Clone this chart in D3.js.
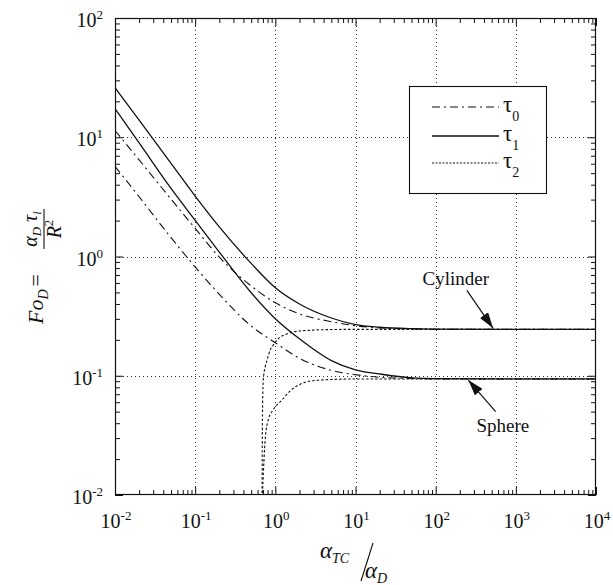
<!DOCTYPE html>
<html><head><meta charset="utf-8">
<script src="https://cdn.jsdelivr.net/npm/d3@7"></script>
<style>
body{margin:0;background:#fff;}
svg{display:block;}
text{font-family:"Liberation Serif","Times New Roman",serif;fill:#111;}
</style></head>
<body>
<svg id="chart" width="613" height="585"></svg>
<script>
// ---------- data ----------
const xs = [0.01,0.02,0.05,0.1,0.2,0.5,1,2,5,10,20,50,100,1000,10000];
const cylTau1 = [26.1,13.9,6.04,3.21,1.77,0.875,0.547,0.40,0.305,0.268,0.255,0.248,0.246,0.245,0.245];
const cylTau0 = [11.4,6.45,3.03,1.72,0.986,0.566,0.409,0.33,0.284,0.263,0.252,0.247,0.245,0.245,0.245];
const sphTau1 = [17.4,8.96,3.72,2.01,1.09,0.497,0.301,0.204,0.134,0.112,0.1035,0.096,0.0945,0.094,0.094];
const sphTau0 = [5.7,3.17,1.44,0.817,0.482,0.261,0.189,0.140,0.111,0.102,0.097,0.095,0.094,0.094,0.094];
const cylTau2X = [0.684,0.688,0.695,0.708,0.75,0.794,0.866,0.917,1.06,1.41,1.88,2.74,5,10,100,10000];
const cylTau2 = [0.0095,0.03,0.06,0.093,0.12,0.137,0.166,0.176,0.201,0.225,0.236,0.241,0.244,0.245,0.245,0.245];
const sphTau2X = [0.688,0.70,0.72,0.75,0.818,0.944,1.22,1.54,2.05,2.6,3.65,5,10,100,10000];
const sphTau2 = [0.0095,0.0125,0.019,0.03,0.043,0.052,0.063,0.075,0.085,0.09,0.092,0.093,0.094,0.094,0.094];

const xDecades = [-2,-1,0,1,2,3,4];
const yDecades = [-2,-1,0,1,2];
const legendSubs = ["0","1","2"];
const shapeNames = ["Cylinder","Sphere"];

// ---------- layout ----------
const L=115, R=596, T=18, B=495;
const svg = d3.select("#chart");
const x = d3.scaleLog().domain([1e-2,1e4]).range([L,R]);
const y = d3.scaleLog().domain([1e-2,1e2]).range([B,T]);

const defs = svg.append("defs");
defs.append("clipPath").attr("id","clip").append("rect")
  .attr("x",L).attr("y",T).attr("width",R-L).attr("height",B-T);
defs.append("marker").attr("id","ah").attr("viewBox","0 0 16 10")
  .attr("refX",16).attr("refY",5).attr("markerWidth",16).attr("markerHeight",10)
  .attr("markerUnits","userSpaceOnUse").attr("orient","auto")
  .append("path").attr("d","M0,0L16,5L0,10z").attr("fill","#111");

// ---------- grid ----------
const gx = xDecades.slice(1,-1).map(d=>Math.pow(10,d));
const gy = yDecades.slice(1,-1).map(d=>Math.pow(10,d));
const grid = svg.append("g").attr("stroke","#333").attr("stroke-width",1).attr("stroke-dasharray","1,3");
grid.selectAll(".gv").data(gx).join("line")
  .attr("x1",d=>Math.round(x(d))+0.5).attr("x2",d=>Math.round(x(d))+0.5)
  .attr("y1",T).attr("y2",B);
grid.selectAll(".gh").data(gy).join("line")
  .attr("y1",d=>Math.round(y(d))+0.5).attr("y2",d=>Math.round(y(d))+0.5)
  .attr("x1",L).attr("x2",R);

// ---------- ticks via axes ----------
const xMinor=[], yMinor=[];
xDecades.slice(0,-1).forEach(d=>{for(let k=2;k<10;k++) xMinor.push(k*Math.pow(10,d));});
yDecades.slice(0,-1).forEach(d=>{for(let k=2;k<10;k++) yMinor.push(k*Math.pow(10,d));});
const xMajor = xDecades.map(d=>Math.pow(10,d));
const yMajor = yDecades.map(d=>Math.pow(10,d));

function addAxis(gen, tr, vals, size){
  const g = svg.append("g").attr("transform",tr)
    .call(gen.tickValues(vals).tickSize(size).tickFormat(""));
  g.select(".domain").remove();
  g.selectAll("line").attr("stroke","#111");
}
addAxis(d3.axisBottom(x),`translate(0,${B})`,xMinor,-5);
addAxis(d3.axisBottom(x),`translate(0,${B})`,xMajor,-8);
addAxis(d3.axisTop(x),`translate(0,${T})`,xMinor,-5);
addAxis(d3.axisTop(x),`translate(0,${T})`,xMajor,-8);
addAxis(d3.axisLeft(y),`translate(${L},0)`,yMinor,-5);
addAxis(d3.axisLeft(y),`translate(${L},0)`,yMajor,-8);
addAxis(d3.axisRight(y),`translate(${R},0)`,yMinor,-5);
addAxis(d3.axisRight(y),`translate(${R},0)`,yMajor,-8);

svg.append("rect").attr("x",L+0.5).attr("y",T+0.5).attr("width",R-L-1).attr("height",B-T-1)
  .attr("fill","none").attr("stroke","#111").attr("stroke-width",1.2);

// tick labels
xDecades.forEach(d=>{
  const t = svg.append("text").attr("x",x(Math.pow(10,d))+1).attr("y",B+33)
    .attr("text-anchor","middle").attr("font-size",20).text("10");
  t.append("tspan").attr("dy",-8).attr("font-size",13).text(d);
});
yDecades.forEach(d=>{
  const t = svg.append("text").attr("x",103).attr("y",y(Math.pow(10,d))+9)
    .attr("text-anchor","end").attr("font-size",20).text("10");
  t.append("tspan").attr("dy",-8).attr("font-size",13).text(d);
});

// ---------- curves ----------
const line = d3.line().x(d=>x(d[0])).y(d=>y(d[1])).curve(d3.curveMonotoneX);
const plot = svg.append("g").attr("clip-path","url(#clip)").attr("fill","none").attr("stroke","#111");
const series = [
  {xv:xs, yv:cylTau1, dash:null, w:1.3},
  {xv:xs, yv:sphTau1, dash:null, w:1.3},
  {xv:xs, yv:cylTau0, dash:"8,4,2,4", w:1.1},
  {xv:xs, yv:sphTau0, dash:"8,4,2,4", w:1.1},
  {xv:cylTau2X, yv:cylTau2, dash:"2.5,2", w:1.1},
  {xv:sphTau2X, yv:sphTau2, dash:"2.5,2", w:1.1}
];
series.forEach(s=>{
  plot.append("path").datum(s.xv.map((v,i)=>[v,s.yv[i]]))
    .attr("d",line).attr("stroke-width",s.w)
    .attr("stroke-dasharray",s.dash);
});

// ---------- legend ----------
const lg = svg.append("g");
lg.append("rect").attr("x",409.5).attr("y",86.5).attr("width",137).attr("height",107)
  .attr("fill","#fff").attr("stroke","#111").attr("stroke-width",1.1);
const legDash = ["8,4,2,4",null,"2,1.5"];
const legY = [107,136,163];
legendSubs.forEach((s,i)=>{
  lg.append("line").attr("x1",432).attr("x2",499).attr("y1",legY[i]).attr("y2",legY[i])
    .attr("stroke","#111").attr("stroke-width",i===1?1.3:1.1).attr("stroke-dasharray",legDash[i]);
  const t = lg.append("text").attr("x",503).attr("y",legY[i]+5).attr("font-size",23).text("τ");
  t.append("tspan").attr("dy",9).attr("font-size",14).text(s);
});

// ---------- annotations ----------
const ann = [
  {label:shapeNames[0], lx:178, ly:0.58, tx:245, ty:0.52, hx:520, hy:0.25},
  {label:shapeNames[1], lx:690, ly:0.034, tx:560, ty:0.05, hx:255, hy:0.092}
];
ann.forEach(a=>{
  svg.append("text").attr("x",x(a.lx)).attr("y",y(a.ly)).attr("text-anchor","middle")
    .attr("font-size",19).text(a.label);
  svg.append("line").attr("x1",x(a.tx)).attr("y1",y(a.ty)).attr("x2",x(a.hx)).attr("y2",y(a.hy))
    .attr("stroke","#111").attr("stroke-width",1.2).attr("marker-end","url(#ah)");
});

// ---------- axis titles ----------
const xt = svg.append("g");
const a1 = xt.append("text").attr("x",320).attr("y",558).attr("font-size",23).attr("font-style","italic").text("α");
a1.append("tspan").attr("dy",5).attr("font-size",14).text("TC");
xt.append("line").attr("x1",373).attr("y1",543).attr("x2",361).attr("y2",581).attr("stroke","#111").attr("stroke-width",1.1);
const a2 = xt.append("text").attr("x",365).attr("y",578).attr("font-size",23).attr("font-style","italic").text("α");
a2.append("tspan").attr("dy",5).attr("font-size",14).text("D");

const yt = svg.append("g").attr("transform","rotate(-90)");
const f = yt.append("text").attr("x",-324).attr("y",43).attr("font-size",22).attr("font-style","italic").text("Fo");
f.append("tspan").attr("dy",5).attr("font-size",14).text("D");
f.append("tspan").attr("dy",-5).attr("dx",3).attr("font-style","normal").text("=");
yt.append("line").attr("x1",-249).attr("x2",-209).attr("y1",44).attr("y2",44).attr("stroke","#111").attr("stroke-width",1.1);
const num = yt.append("text").attr("x",-229).attr("y",37).attr("text-anchor","middle").attr("font-size",20).attr("font-style","italic").text("α");
num.append("tspan").attr("dy",4).attr("font-size",13).text("D");
num.append("tspan").attr("dy",-4).text(" τ");
num.append("tspan").attr("dy",4).attr("font-size",13).text("i");
const den = yt.append("text").attr("x",-229).attr("y",61).attr("text-anchor","middle").attr("font-size",20).attr("font-style","italic").text("R");
den.append("tspan").attr("dy",-8).attr("font-size",13).attr("font-style","normal").text("2");
</script>
</body></html>
